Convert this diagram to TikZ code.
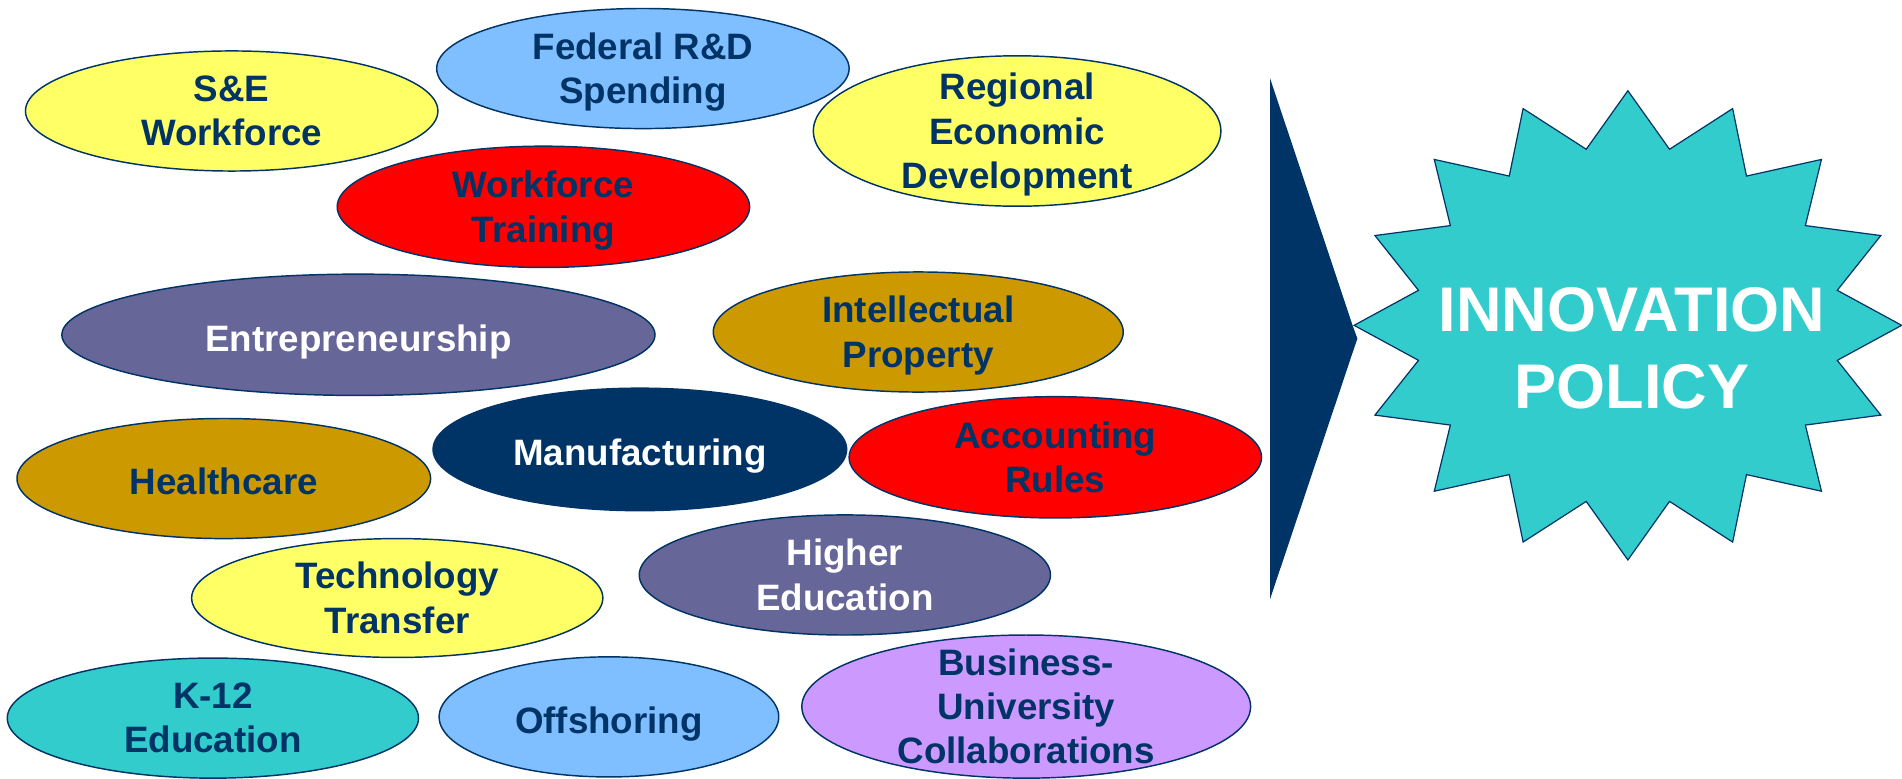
\documentclass[tikz,border=0pt]{standalone}
\usepackage{fontspec}
\setmainfont{Liberation Sans}
\usetikzlibrary{shapes.geometric}
\definecolor{cNavy}{HTML}{003366}
\definecolor{cYellow}{HTML}{FFFF66}
\definecolor{cLtBlue}{HTML}{80BFFF}
\definecolor{cRed}{HTML}{FF0000}
\definecolor{cPurple}{HTML}{666699}
\definecolor{cGold}{HTML}{CC9900}
\definecolor{cTeal}{HTML}{33CCCC}
\definecolor{cLav}{HTML}{CC99FF}
\newcommand\lstrut{\rule[-0.212em]{0pt}{1.117em}}
\tikzset{
  ell/.style n args={3}{ellipse, draw=cNavy, line width=1.2pt, fill=#1,
    minimum width=#2pt, minimum height=#3pt, inner sep=0pt},
  lbl/.style={font=\fontsize{30.3}{36.5}\selectfont\bfseries, align=center,
    text=cNavy, inner sep=0pt, yshift=-3pt,
    execute at begin node=\lstrut, execute at end node=\lstrut},
  wlbl/.style={lbl, text=white},
  starsty/.style={draw=cNavy, line width=1pt, fill=cTeal, line join=miter},
  biglbl/.style={font=\fontsize{52}{63}\selectfont\bfseries, align=center,
    text=white, inner sep=0pt,
    execute at begin node=\lstrut, execute at end node=\lstrut}
}
\begin{document}
\begin{tikzpicture}[x=1pt,y=-1pt]
\useasboundingbox (0,0) rectangle (1568,642);
% ellipses
\node[ell={cYellow}{340}{99}]  (se)  at (191,91.5) {};
\node[ell={cLtBlue}{340}{99}]  (fed) at (530,56.5) {};
\node[ell={cYellow}{336}{124}] (reg) at (838.5,108) {};
\node[ell={cRed}{340}{100}]    (wt)  at (448,170.5) {};
\node[ell={cPurple}{489}{100}] (ent) at (295.5,276) {};
\node[ell={cGold}{338}{99}]    (ip)  at (757,273.7) {};
\node[ell={cGold}{341}{99}]    (hc)  at (184.5,394.5) {};
\node[ell={cNavy}{341}{101}]   (mf)  at (527.5,370.5) {};
\node[ell={cRed}{340}{100}]    (ar)  at (870,377) {};
\node[ell={cPurple}{339}{99}]  (he)  at (696.5,474) {};
\node[ell={cYellow}{339}{98}]  (tt)  at (327.5,493) {};
\node[ell={cTeal}{339}{99}]    (k12) at (175.5,592) {};
\node[ell={cLtBlue}{280}{99}]  (off) at (502,591) {};
\node[ell={cLav}{370}{118}]    (bu)  at (846,582.5) {};
% labels
\node[lbl]  (se-t)  at (se)  {S\&E\\Workforce};
\node[lbl]  (fed-t) at (fed) {Federal R\&D\\Spending};
\node[lbl]  (reg-t) at (reg) {Regional\\Economic\\Development};
\node[lbl]  (wt-t)  at (wt)  {Workforce\\Training};
\node[wlbl] (ent-t) at (ent) {Entrepreneurship};
\node[lbl]  (ip-t)  at (ip)  {Intellectual\\Property};
\node[lbl]  (hc-t)  at (hc)  {Healthcare};
\node[wlbl] (mf-t)  at (mf)  {Manufacturing};
\node[lbl]  (ar-t)  at (ar)  {Accounting\\Rules};
\node[wlbl] (he-t)  at (he)  {Higher\\Education};
\node[lbl]  (tt-t)  at (tt)  {Technology\\Transfer};
\node[lbl]  (k12-t) at (k12) {K-12\\Education};
\node[lbl]  (off-t) at (off) {Offshoring};
\node[lbl]  (bu-t)  at (bu)  {Business-\\University\\Collaborations};
% arrow wedge
\fill[cNavy] (1047,64.5) -- (1115.5,269.5) -- (1119,279) -- (1047,494) -- cycle;
% star
\draw[starsty] (1342,74.8)
  \foreach \i in {1,...,31}{
    -- ({1342+ifthenelse(isodd(\i),176,225.7)*cos(90+11.25*\i)},
        {268.2-ifthenelse(isodd(\i),148,193.4)*sin(90+11.25*\i)})
  } -- cycle;
\node[biglbl] (pol) at (1345.5,292.5) {INNOVATION\\POLICY};
\end{tikzpicture}
\end{document}
